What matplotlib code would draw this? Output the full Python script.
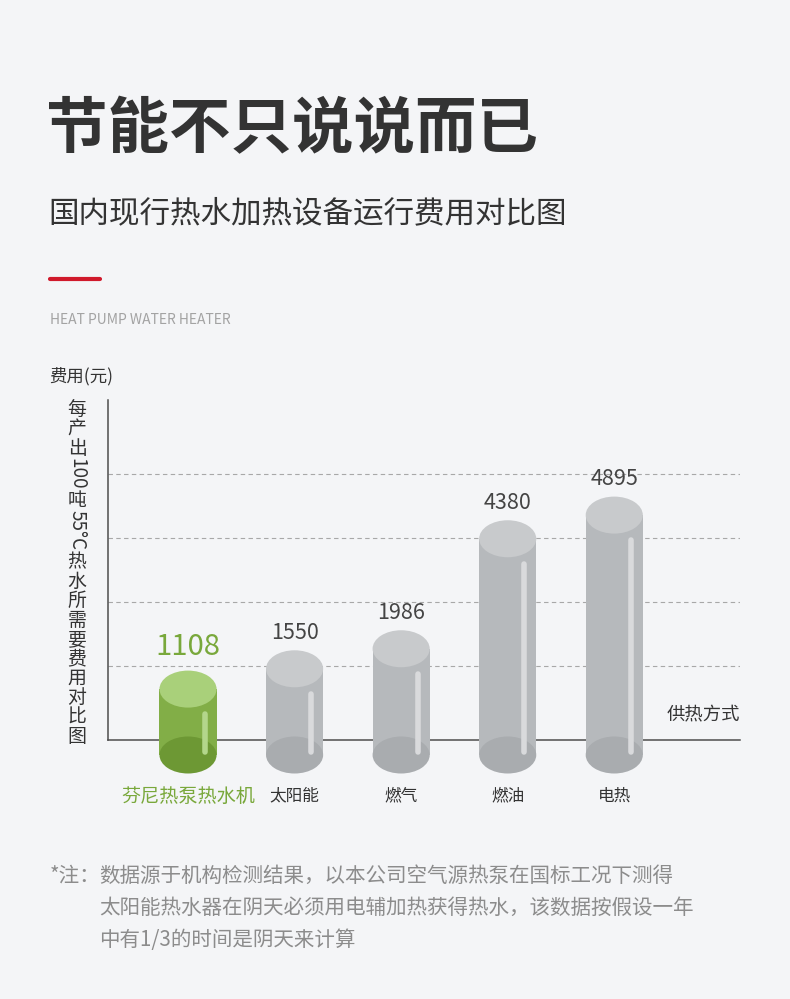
import matplotlib
matplotlib.use("Agg")
import matplotlib.pyplot as plt
from matplotlib.patches import Ellipse, Rectangle

plt.rcParams['font.family'] = ['Noto Sans CJK SC', 'DejaVu Sans']

# data
categories = ['芬尼热泵热水机', '太阳能', '燃气', '燃油', '电热']
costs = [1108, 1550, 1986, 4380, 4895]
grid_values = [1600, 3000, 4400, 5800]
notes = ['数据源于机构检测结果，以本公司空气源热泵在国标工况下测得',
         '太阳能热水器在阴天必须用电辅加热获得热水，该数据按假设一年',
         '中有1/3的时间是阴天来计算']

W, H = 790, 999
BG = '#f4f5f7'
DARK = '#333333'
GREEN = '#79a83b'


def fx(x):
    return x / W


def fy(y):
    return 1 - y / H


fig = plt.figure(figsize=(W / 100, H / 100), dpi=100, facecolor=BG)
renderer = fig.canvas.get_renderer()

# header
fig.text(fx(46), fy(130), '节能不只说说而已', fontsize=44.3, weight='bold', color=DARK,
         ha='left', va='center')
fig.text(fx(48), fy(214), '国内现行热水加热设备运行费用对比图', fontsize=22, color=DARK,
         ha='left', va='center')
fig.add_artist(plt.Line2D([fx(50), fx(100)], [fy(279), fy(279)], color='#d0192b', lw=3,
                          solid_capstyle='round'))
fig.text(fx(50), fy(320), 'HEAT PUMP WATER HEATER', fontsize=10, color='#a3a3a3',
         ha='left', va='center')
fig.text(fx(49), fy(376), '费用(元)', fontsize=12.5, color=DARK, ha='left', va='center')

# plot area
ax = fig.add_axes([fx(108), fy(740), (740 - 108) / W, (740 - 400) / H])
ax.set_facecolor('none')
ax.set_xlim(-0.751, 5.18)
ax.set_ylim(0, 7400)
for s in ['top', 'right']:
    ax.spines[s].set_visible(False)
for s in ['left', 'bottom']:
    ax.spines[s].set_color('#4d4d4d')
    ax.spines[s].set_linewidth(1.1)
ax.set_xticks([])
ax.set_yticks([])

for g in grid_values:
    ax.axhline(g, color='#a8a8a8', lw=0.8, dashes=(4, 3), zorder=1)

px_per_unit = 340 / 7400
half_w = 0.268
ell_h = 37 / px_per_unit
base = -15 / px_per_unit

for i, (cat, v) in enumerate(zip(categories, costs)):
    if i == 0:
        body, top, bottom, stripe = '#82ae47', '#a9d07a', '#6d9834', '#b3d68b'
        lab_color, lab_size, lab_off = GREEN, 21, 30
        cat_color, cat_size = GREEN, 13.8
    else:
        body, top, bottom, stripe = '#b6b9bc', '#c8cacc', '#a9acaf', '#d9dadc'
        lab_color, lab_size, lab_off = '#444444', 15.5, 26
        cat_color, cat_size = DARK, 12
    ax.add_patch(Rectangle((i - half_w, base), 2 * half_w, v - base, facecolor=body,
                           edgecolor='none', zorder=3, clip_on=False))
    ax.add_patch(Ellipse((i, base), 2 * half_w, ell_h, facecolor=bottom,
                         edgecolor='none', zorder=3.1, clip_on=False))
    ax.add_patch(Ellipse((i, v), 2 * half_w, ell_h, facecolor=top,
                         edgecolor='none', zorder=3.2, clip_on=False))
    ax.plot([i + 0.155, i + 0.155], [v - 25 / px_per_unit, base + 3 / px_per_unit],
            color=stripe, lw=4, solid_capstyle='round', zorder=3.3, clip_on=False)
    ax.annotate(str(v), xy=(i, v), xytext=(0, lab_off), textcoords='offset points',
                ha='center', va='center', fontsize=lab_size, color=lab_color)
    ax.annotate(cat, xy=(i, 0), xytext=(0, -40.5), textcoords='offset points',
                ha='center', va='center', fontsize=cat_size, color=cat_color,
                annotation_clip=False)

fig.text(fx(740), fy(715), '供热方式', fontsize=13.2, color=DARK, ha='right', va='center')

# vertical y label: upright CJK stacked line by line, latin runs turned
runs = [('每产出', False), ('100', True), ('吨', False), ('55°C', True),
        ('热水所需要费用对比图', False)]
vsize = 13.6
em = vsize * 100 / 72
y = 399
for s, turned in runs:
    if turned:
        t = fig.text(fx(77), fy(y), s, rotation=-90, fontsize=vsize, color=DARK,
                     ha='center', va='top')
        y += t.get_window_extent(renderer).height + 1
    else:
        t = fig.text(fx(77), fy(y), '\n'.join(s), fontsize=vsize, color=DARK,
                     ha='center', va='top', linespacing=1.0)
        if len(s) > 1:
            # tune line pitch to one em
            probe = fig.text(0, 0, s[0], fontsize=vsize)
            h1 = probe.get_window_extent(renderer).height
            probe.remove()
            hn = t.get_window_extent(renderer).height
            pitch = (hn - h1) / (len(s) - 1)
            t.set_linespacing(em / pitch)
        y += t.get_window_extent(renderer).height - 1

# footnote
fig.text(fx(50), fy(876), '*注：', fontsize=14.8, color='#8c8c8c', ha='left', va='center')
for k, line in enumerate(notes):
    fig.text(fx(99), fy(876 + 32 * k), line, fontsize=14.8, color='#8c8c8c',
             ha='left', va='center')

fig.savefig('out.png', dpi=100, facecolor=BG)
